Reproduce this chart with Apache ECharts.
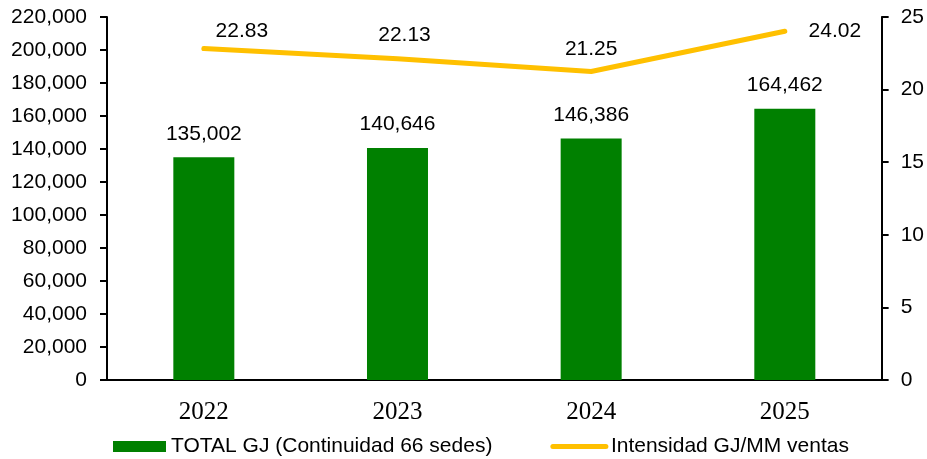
<!DOCTYPE html>
<html>
<head>
<meta charset="utf-8">
<script src="https://cdn.jsdelivr.net/npm/echarts@6/dist/echarts.min.js"></script>
<style>
  html, body { margin: 0; padding: 0; background: #ffffff; }
  #chart { width: 927px; height: 459px; }
</style>
</head>
<body>
<div id="chart"></div>
<script>
// Datos
const years = ['2022', '2023', '2024', '2025'];
const totalGJ = [135002, 140646, 146386, 164462];
const intensidad = [22.83, 22.13, 21.25, 24.02];
const barName = 'TOTAL GJ (Continuidad 66 sedes)';
const lineName = 'Intensidad GJ/MM ventas';

// offsets of the line labels (style only)
const lineLabelOffsets = [[38, -2], [7, -8], [0, -7], [50, 16]];

const chart = echarts.init(document.getElementById('chart'), null, { renderer: 'canvas' });

const font = '"Liberation Sans", Arial, sans-serif';
const axisLine = { show: true, lineStyle: { color: '#000000', width: 2 } };
const axisTick = { show: true, length: 7, lineStyle: { color: '#000000', width: 2 } };

const option = {
  animation: false,
  backgroundColor: '#ffffff',
  textStyle: { fontFamily: font },
  grid: { left: 107, right: 45, top: 17, bottom: 79 },
  legend: {
    top: 431,
    left: 108,
    itemWidth: 53,
    itemHeight: 11,
    itemGap: 58,
    textStyle: { fontFamily: font, fontSize: 21, color: '#000000' },
    data: [
      { name: barName, icon: 'rect' },
      { name: lineName, itemStyle: { opacity: 0 }, lineStyle: { width: 5, cap: 'round' } },
    ],
  },
  xAxis: {
    type: 'category',
    data: years,
    axisLine: axisLine,
    axisTick: { show: false },
    axisLabel: { fontFamily: '"Liberation Serif", "DejaVu Serif", serif', fontSize: 25, color: '#000000', margin: 20 },
  },
  yAxis: [
    {
      type: 'value',
      min: 0,
      max: 220000,
      interval: 20000,
      axisLine: axisLine,
      axisTick: axisTick,
      splitLine: { show: false },
      axisLabel: {
        fontSize: 21,
        color: '#000000',
        margin: 20,
        formatter: (v) => v.toLocaleString('en-US'),
      },
    },
    {
      type: 'value',
      min: 0,
      max: 25,
      interval: 5,
      position: 'right',
      axisLine: axisLine,
      axisTick: axisTick,
      splitLine: { show: false },
      axisLabel: { fontSize: 21, color: '#000000', margin: 19 },
    },
  ],
  series: [
    {
      name: barName,
      type: 'bar',
      data: totalGJ,
      barWidth: '31.5%',
      itemStyle: { color: '#008000' },
      label: {
        show: true,
        position: 'top',
        distance: 13,
        fontSize: 21,
        color: '#000000',
        formatter: (p) => Number(p.value).toLocaleString('en-US'),
      },
    },
    {
      name: lineName,
      type: 'line',
      yAxisIndex: 1,
      data: intensidad.map((v, i) => ({
        value: v,
        label: { offset: lineLabelOffsets[i] },
      })),
      symbol: 'circle',
      symbolSize: 0.1,
      showSymbol: true,
      lineStyle: { color: '#FFC000', width: 5, cap: 'round' },
      itemStyle: { color: '#FFC000' },
      label: {
        show: true,
        position: 'top',
        distance: 5,
        fontSize: 21,
        color: '#000000',
        formatter: (p) => Number(p.value).toFixed(2),
      },
    },
  ],
};

chart.setOption(option);
</script>
</body>
</html>
